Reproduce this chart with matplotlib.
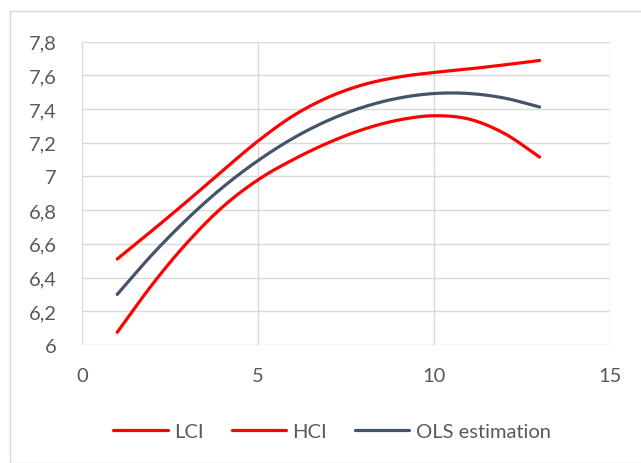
import numpy as np
import matplotlib
matplotlib.use("Agg")
import matplotlib.pyplot as plt
from matplotlib.patches import Rectangle

x = [1, 2, 3, 4, 5, 6, 7, 8, 9, 10, 11, 12, 13]
lci = [6.51, 6.68, 6.855, 7.035, 7.21, 7.36, 7.47, 7.545, 7.59, 7.617, 7.638, 7.662, 7.688]
hci = [6.075, 6.36, 6.61, 6.82, 6.98, 7.10, 7.20, 7.28, 7.335, 7.36, 7.34, 7.255, 7.115]
ols = [6.300, 6.538, 6.750, 6.936, 7.094, 7.227, 7.333, 7.412, 7.465, 7.492, 7.492, 7.465, 7.412]

series_names = ["LCI", "HCI", "OLS estimation"]
series_colors = ["#FF0000", "#FF0000", "#44546A"]

x_ticks = [0, 5, 10, 15]
y_ticks = [6.0, 6.2, 6.4, 6.6, 6.8, 7.0, 7.2, 7.4, 7.6, 7.8]
y_labels = ["6", "6,2", "6,4", "6,6", "6,8", "7", "7,2", "7,4", "7,6", "7,8"]


def smooth(xs, ys, n=40):
    """Bezier smoothing through the points, like a spreadsheet 'smoothed line'."""
    xs = np.asarray(xs, float)
    ys = np.asarray(ys, float)
    px = np.concatenate([[2 * xs[0] - xs[1]], xs, [2 * xs[-1] - xs[-2]]])
    py = np.concatenate([[2 * ys[0] - ys[1]], ys, [2 * ys[-1] - ys[-2]]])
    out_x, out_y = [], []
    t = np.linspace(0, 1, n, endpoint=False)
    for i in range(1, len(px) - 2):
        p0, p1, p2, p3 = (np.array([px[j], py[j]]) for j in range(i - 1, i + 3))
        c1 = p1 + (p2 - p0) / 6.0
        c2 = p2 - (p3 - p1) / 6.0
        b = ((1 - t) ** 3)[:, None] * p1 + (3 * (1 - t) ** 2 * t)[:, None] * c1 \
            + (3 * (1 - t) * t ** 2)[:, None] * c2 + (t ** 3)[:, None] * p2
        out_x.extend(b[:, 0])
        out_y.extend(b[:, 1])
    out_x.append(xs[-1])
    out_y.append(ys[-1])
    return np.array(out_x), np.array(out_y)


plt.rcParams["font.family"] = ["Lato", "DejaVu Sans"]
W, H = 641, 464
FS = 14.5
fig = plt.figure(figsize=(W / 100, H / 100), dpi=100)
fig.patch.set_facecolor("white")

# chart frame
fig.patches.append(Rectangle((10 / W, 0), 1.0, 1 - 12 / H, transform=fig.transFigure,
                             fill=False, edgecolor="#D9D9D9", linewidth=1.0, clip_on=False))

ax = fig.add_axes([82 / W, 118 / H, (610 - 82) / W, (346 - 42.6) / H])
ax.set_xlim(0, 15)
ax.set_ylim(6.0, 7.8)
ax.set_xticks(x_ticks)
ax.set_yticks(y_ticks)
ax.set_yticklabels(y_labels)
ax.grid(True, color="#D9D9D9", linewidth=1.0)
ax.set_axisbelow(True)
for s in ax.spines.values():
    s.set_visible(False)
ax.tick_params(length=0, labelsize=FS, labelcolor="#595959")
ax.tick_params(axis="x", pad=16)
ax.tick_params(axis="y", pad=18)

handles = []
for ys, name, col in zip([lci, hci, ols], series_names, series_colors):
    sx, sy = smooth(x, ys)
    h, = ax.plot(sx, sy, color=col, linewidth=2.3, solid_capstyle="round", label=name)
    handles.append(h)

leg = fig.legend(handles=handles, loc="center", bbox_to_anchor=(332 / W, 1 - 432 / H),
                 ncol=3, frameon=False, fontsize=FS, handlelength=2.7, columnspacing=1.4,
                 handletextpad=0.3)
for t in leg.get_texts():
    t.set_color("#595959")

fig.savefig("out.png", dpi=100, facecolor="white")
